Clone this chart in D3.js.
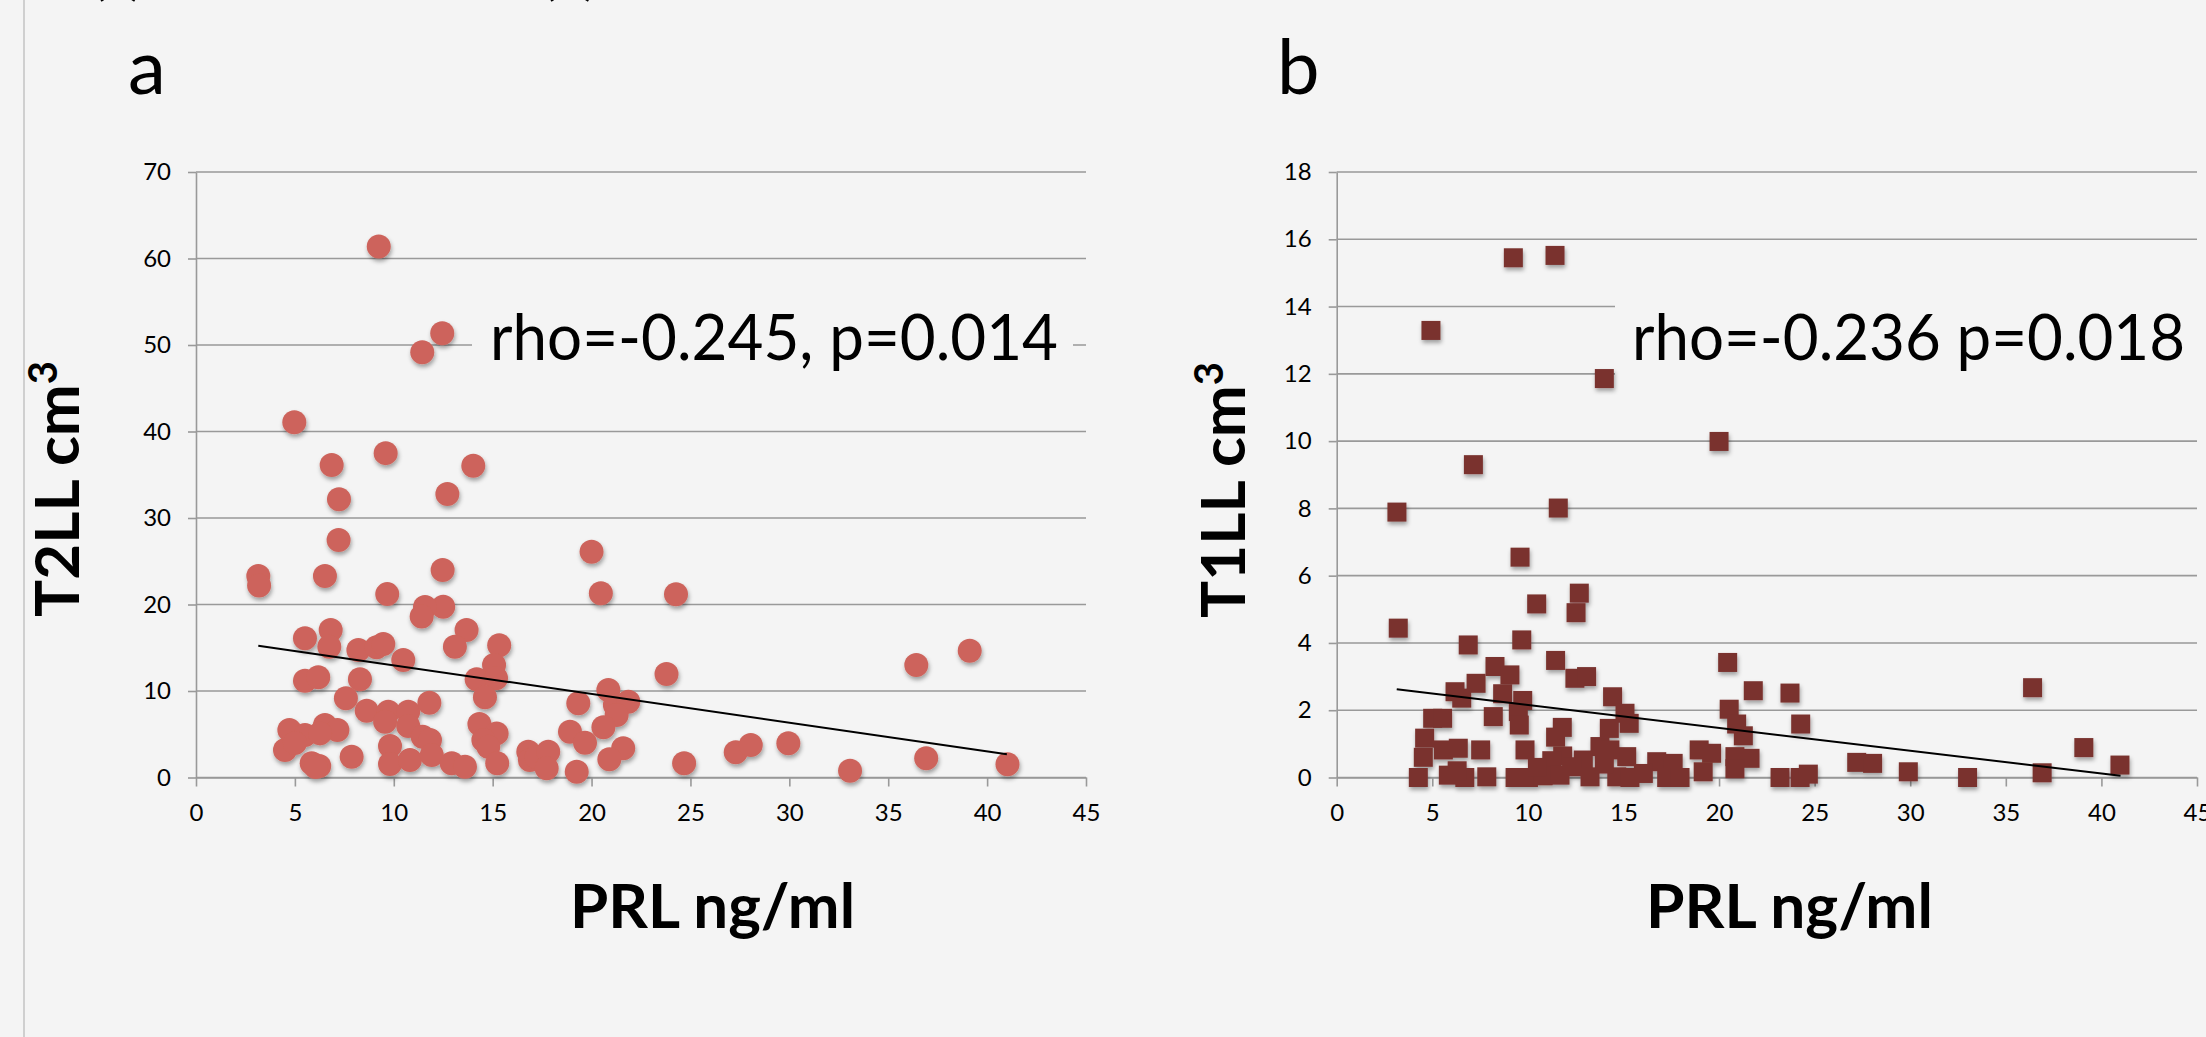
<!DOCTYPE html>
<html><head><meta charset="utf-8">
<script src="https://cdn.jsdelivr.net/npm/d3@7"></script>
<style>
html,body{margin:0;padding:0;background:#f4f4f4;overflow:hidden}
text{font-family:Lato,"Open Sans",sans-serif}
</style></head>
<body><svg id="c" width="2206" height="1037"></svg>
<script>
// ---- data ----
const xTicks = [0,5,10,15,20,25,30,35,40,45];
const yTicksA = [0,10,20,30,40,50,60,70];
const yTicksB = [0,2,4,6,8,10,12,14,16,18];

const prlA = [9.24,12.45,11.44,4.97,9.59,6.86,14.02,12.71,7.23,7.21,20.0,3.15,3.19,6.52,12.47,20.47,9.67,24.27,12.5,11.58,11.41,23.79,36.42,39.12,24.68,27.29,28.05,29.95,33.07,36.92,41.03,
5.51,6.81,6.74,8.21,9.13,9.47,10.48,13.68,13.09,15.33,15.07,14.19,15.17,14.61,5.51,6.18,8.29,7.58,8.63,9.72,10.73,11.8,9.56,10.73,11.46,11.83,4.72,5.51,6.52,7.15,6.27,4.5,5.85,6.23,7.87,9.81,9.81,10.82,11.92,12.93,13.6,14.33,15.2,14.53,14.78,15.23,16.8,16.88,17.22,17.81,17.73,19.33,18.91,19.67,19.25,20.85,21.18,21.86,21.27,20.6,21.6,20.9,6.05,5.0];
const t2ll = [61.4,51.35,49.15,41.06,37.5,36.13,36.05,32.77,32.16,27.46,26.1,23.3,22.2,23.3,24.0,21.3,21.2,21.18,19.75,19.7,18.6,11.97,13.0,14.66,1.64,2.91,3.76,3.95,0.79,2.22,1.52,
16.09,17.05,15.12,14.74,15.05,15.43,13.58,17.05,15.12,15.3,13.0,11.35,11.47,9.27,11.19,11.58,11.35,9.15,7.72,7.61,7.61,8.65,6.45,5.95,4.72,4.34,5.49,4.91,6.07,5.49,5.1,3.18,1.64,1.33,2.4,3.64,1.56,2.02,2.6,1.64,1.25,6.18,5.1,4.34,3.56,1.64,2.98,2.02,2.33,2.98,1.06,8.58,5.3,4.02,0.67,10.12,8.38,8.76,7.23,5.8,3.37,2.1,1.2,4.0];

const prlB = [9.24,11.42,4.93,14.0,20.0,7.15,3.15,11.59,9.59,12.69,12.52,10.46,3.22,6.88,9.68,11.45,12.46,13.07,8.28,9.06,7.29,6.19,6.54,8.68,9.73,9.5,9.55,8.19,5.02,5.54,14.43,15.08,15.3,14.26,11.8,11.45,20.45,21.79,23.71,24.27,20.53,20.92,21.27,4.6,4.53,5.58,6.36,7.53,9.85,11.82,11.25,13.77,14.29,15.17,12.9,16.74,17.6,18.96,19.61,20.83,21.62,20.83,19.17,4.27,5.84,6.7,7.85,9.33,10.03,10.8,11.68,12.29,13.25,14.65,15.34,16.04,17.26,17.96,23.19,24.24,24.67,27.2,28.03,29.9,33.0,36.4,36.9,39.08,40.97,6.3,10.5,14.0];
const t1ll = [15.45,15.52,13.29,11.86,9.99,9.3,7.89,8.01,6.55,5.48,4.9,5.16,4.44,3.94,4.09,3.48,2.95,3.0,3.3,3.05,2.8,2.55,2.36,2.49,2.29,1.96,1.56,1.81,1.76,1.76,2.4,1.91,1.61,1.46,1.49,1.2,3.42,2.58,2.51,1.59,2.03,1.59,1.24,1.17,0.6,0.82,0.87,0.82,0.82,0.64,0.5,0.92,0.82,0.62,0.52,0.47,0.42,0.82,0.72,0.62,0.57,0.26,0.17,0,0.07,0,0.02,0,0,0.05,0.07,0.32,0.02,0.02,0,0.12,0,0,0,0,0.1,0.45,0.42,0.17,0,2.67,0.14,0.89,0.37,0.2,0.3,0.4];

const trendAX = [3.15, 41.0], trendAY = [15.24, 2.7];
const trendBX = [3.14, 41.0], trendBY = [2.62, 0.05];

const labelA = "rho=-0.245, p=0.014";
const labelB = "rho=-0.236 p=0.018";

// ---- drawing ----
const svg = d3.select("#c");
svg.append("rect").attr("width",2206).attr("height",1037).attr("fill","#f4f4f4");
svg.append("line").attr("x1",24).attr("x2",24).attr("y1",0).attr("y2",1037)
  .attr("stroke","#cfcfcf").attr("stroke-width",2);

// partially cut-off text at top edge (as in the reference)
svg.append("text").attr("x",92).attr("y",-6).attr("font-size",52).attr("fill","#000").text("(a)");
svg.append("text").attr("x",542).attr("y",-6).attr("font-size",52).attr("fill","#000").text("(b)");

const defs = svg.append("defs");
const f = defs.append("filter").attr("id","sh").attr("x","-50%").attr("y","-50%").attr("width","200%").attr("height","200%");
f.append("feDropShadow").attr("dx",1).attr("dy",3).attr("stdDeviation",2)
  .attr("flood-color","#000").attr("flood-opacity",0.35);

const gridCol = "#999999";

function panel(opt){
  const x = d3.scaleLinear().domain([0,45]).range(opt.xr);
  const y = d3.scaleLinear().domain([0,opt.ymax]).range([777.5,172]);
  const g = svg.append("g");
  g.selectAll("line.grid").data(opt.yTicks).join("line")
    .attr("x1",x(0)).attr("x2",x(45)).attr("y1",d=>y(d)).attr("y2",d=>y(d))
    .attr("stroke",gridCol).attr("stroke-width",1.6);
  const ya = g.append("g").attr("transform",`translate(${x(0)},0)`)
    .call(d3.axisLeft(y).tickValues(opt.yTicks).tickSize(8).tickSizeOuter(0).tickPadding(17));
  const xa = g.append("g").attr("transform",`translate(0,${y(0)})`)
    .call(d3.axisBottom(x).tickValues(xTicks).tickSize(9).tickSizeOuter(0).tickPadding(17));
  [ya,xa].forEach(a=>{
    a.selectAll("path,line").attr("stroke",gridCol).attr("stroke-width",1.6);
    a.selectAll("text").attr("font-size",24).attr("fill","#000").attr("font-family","Lato, sans-serif");
  });
  g.append("rect").attr("x",opt.box[0]).attr("y",opt.box[1]).attr("width",opt.box[2]).attr("height",opt.box[3]).attr("fill","#f4f4f4");
  const pts = opt.xs.map((v,i)=>[v,opt.ys[i]]);
  const mg = g.append("g").attr("filter","url(#sh)");
  if(opt.shape==="circle"){
    mg.selectAll("circle").data(pts).join("circle")
      .attr("cx",d=>x(d[0])).attr("cy",d=>y(d[1])).attr("r",12).attr("fill","#cd645b");
  } else {
    mg.selectAll("rect").data(pts).join("rect")
      .attr("x",d=>x(d[0])-9.5).attr("y",d=>y(d[1])-9.5).attr("width",19).attr("height",19).attr("fill","#7a332f");
  }
  g.append("line").attr("x1",x(opt.tx[0])).attr("x2",x(opt.tx[1]))
    .attr("y1",y(opt.ty[0])).attr("y2",y(opt.ty[1])).attr("stroke","#000").attr("stroke-width",2);
  g.append("text").attr("x",opt.lab[0]).attr("y",360).attr("font-size",64)
    .attr("textLength",opt.lab[1]).attr("lengthAdjust","spacingAndGlyphs").text(opt.label);
  g.append("text").attr("x",opt.letter[0]).attr("y",94).attr("font-size",76).text(opt.letter[1]);
  g.append("text").attr("x",opt.xt[0]).attr("y",928).attr("font-size",62).attr("font-weight","bold")
    .attr("textLength",opt.xt[1]).attr("lengthAdjust","spacingAndGlyphs").text("PRL ng/ml");
  const yt = g.append("text").attr("transform",`translate(${opt.yt[0]},${opt.yt[1]}) rotate(-90)`)
    .attr("text-anchor","middle").attr("font-size",62).attr("font-weight","bold");
  yt.append("tspan").text(opt.ytitle + " cm");
  yt.append("tspan").attr("font-size",40).attr("dy",-22).text("3");
}

panel({xr:[196,1086], ymax:70, yTicks:yTicksA, xs:prlA, ys:t2ll, shape:"circle",
  tx:trendAX, ty:trendAY, box:[472,285,601,120], label:labelA, lab:[490,568],
  letter:[128,"a"], xt:[570,285], yt:[79,489], ytitle:"T2LL"});
panel({xr:[1336.7,2197], ymax:18, yTicks:yTicksB, xs:prlB, ys:t1ll, shape:"square",
  tx:trendBX, ty:trendBY, box:[1615,285,591,120], label:labelB, lab:[1632,553],
  letter:[1277,"b"], xt:[1646,287], yt:[1245,490], ytitle:"T1LL"});
</script>
</body></html>
